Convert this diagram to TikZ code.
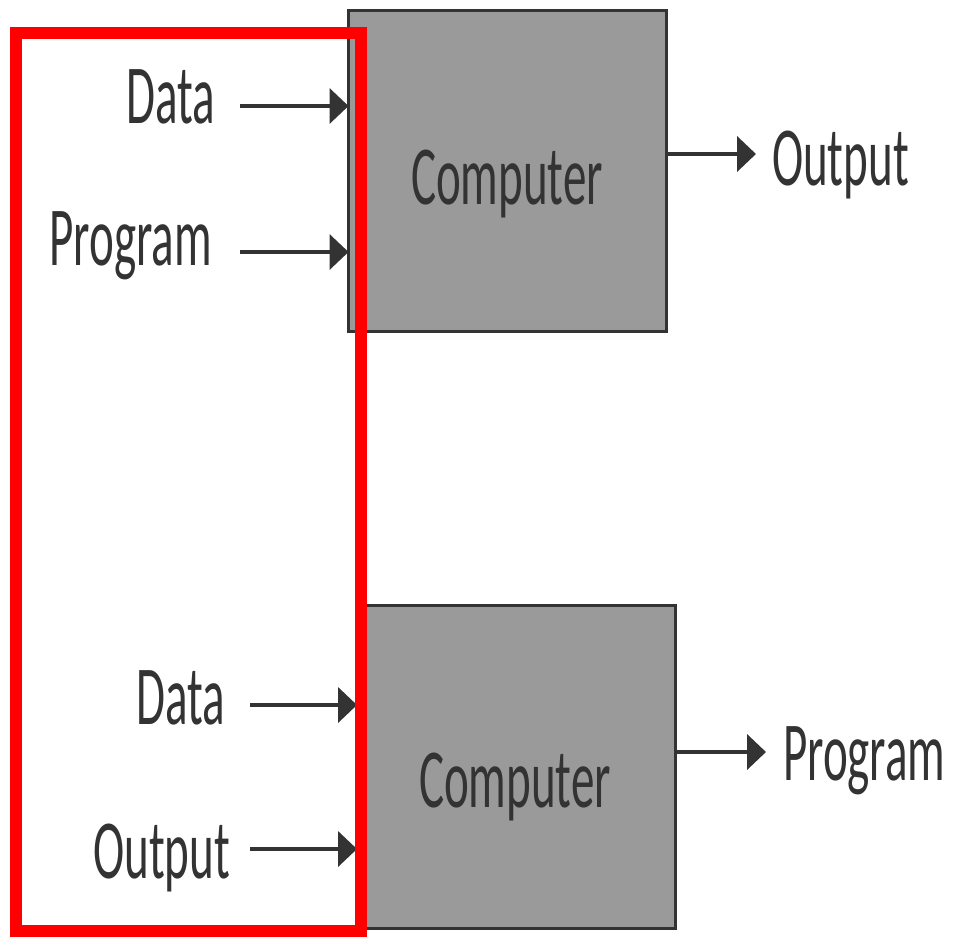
\documentclass[tikz,border=0pt]{standalone}
\usepackage{fontspec}
\setmainfont{Carlito}
\usepackage{graphicx}
\usetikzlibrary{arrows.meta}
\definecolor{ink}{HTML}{333333}
\definecolor{boxgray}{HTML}{9A9A9A}
\definecolor{hl}{HTML}{FF0000}
\newcommand{\sq}[1]{\scalebox{0.56}[1]{#1}}
\begin{document}
\begin{tikzpicture}[x=0.5pt,y=-0.5pt,
  lbl/.style={text=ink, font=\fontsize{42}{46}\selectfont, inner sep=0pt, outer sep=0pt},
  comp/.style={draw=ink, line width=1.5pt, fill=boxgray, inner sep=0pt, outer sep=0pt},
  arr/.style={draw=ink, line width=2pt, -{Triangle[length=9.5pt,width=17.5pt]}},
  hlbox/.style={draw=hl, line width=6pt}
]
\useasboundingbox (0,0) rectangle (956,937);
% computer boxes
\node[comp, minimum width=159pt, minimum height=160.5pt] (c1) at (507.5,170.5) {};
\node[comp, minimum width=155pt, minimum height=161.5pt] (c2) at (520,767) {};
% labels
\node[lbl, anchor=base] (ct1) at (507,204) {\sq{Computer}};
\node[lbl, anchor=base] (ct2) at (515,807) {\sq{Computer}};
\node[lbl, anchor=base east] (d1) at (215,123) {\sq{Data}};
\node[lbl, anchor=base east] (p1) at (212,265) {\sq{Program}};
\node[lbl, anchor=base west] (o1) at (772,185) {\sq{Output}};
\node[lbl, anchor=base east] (d2) at (225,724) {\sq{Data}};
\node[lbl, anchor=base east] (o2) at (230,878) {\sq{Output}};
\node[lbl, anchor=base west] (p2) at (783,780) {\sq{Program}};
% arrow anchors
\coordinate (d1s) at (240,106);
\coordinate (p1s) at (240,252);
\coordinate (o1t) at (756,154);
\coordinate (d2s) at (250,705);
\coordinate (o2s) at (250,849);
\coordinate (p2t) at (766,752);
% arrows
\draw[arr] (d1s) -- (c1.west |- d1s);
\draw[arr] (p1s) -- (c1.west |- p1s);
\draw[arr] (c1.east |- o1t) -- (o1t);
\draw[arr, shorten >=4pt] (d2s) -- (c2.west |- d2s);
\draw[arr, shorten >=4pt] (o2s) -- (c2.west |- o2s);
\draw[arr] (c2.east |- p2t) -- (p2t);
% red highlight frame
\draw[hlbox] (16,33) rectangle (361,931);
\end{tikzpicture}
\end{document}
